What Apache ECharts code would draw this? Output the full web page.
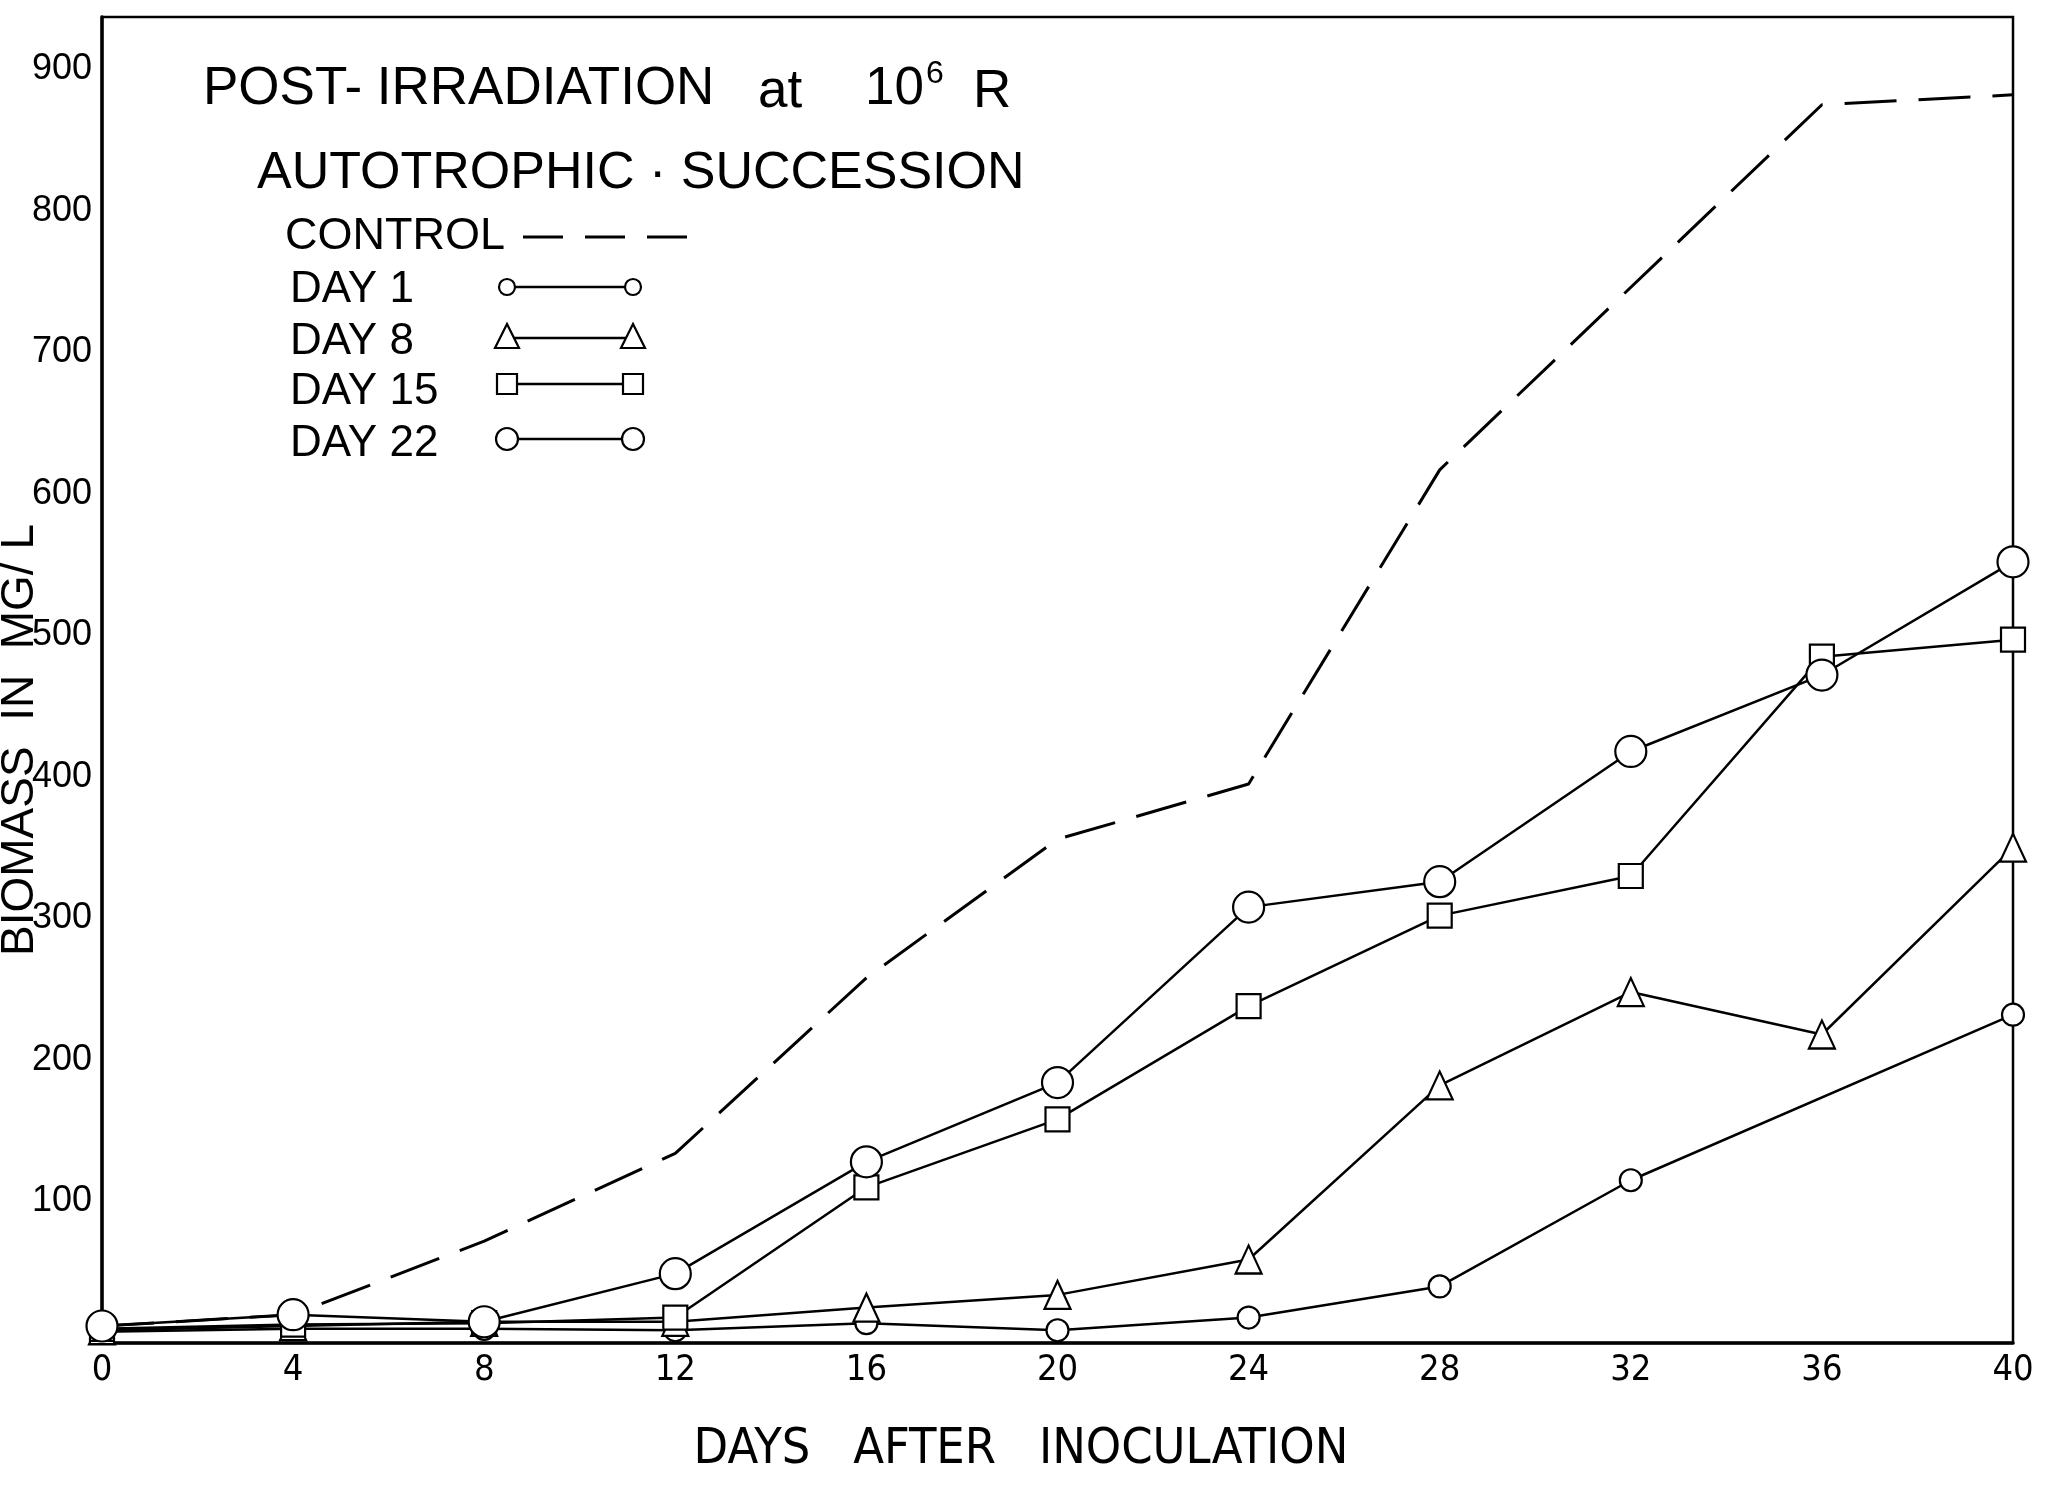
<!DOCTYPE html>
<html>
<head>
<meta charset="utf-8">
<script src="https://cdn.jsdelivr.net/npm/echarts@6/dist/echarts.min.js"></script>
<style>
html,body{margin:0;padding:0;background:#fff;}
#chart{width:2049px;height:1487px;}
</style>
</head>
<body>
<div id="chart"></div>
<script>
// ---- data ----
const days = [0, 4, 8, 12, 16, 20, 24, 28, 32, 36, 40];
const controlVals = [12, 20, 72, 134, 258, 356, 395, 617, null, 875, 882];
const day1Vals    = [8, 10, 10, 9, 14, 9, 18, 40, 115, null, 232];
const day8Vals    = [9, 12, 15, 15, 25, 34, 59, 182, 248, 218, 350];
const day15Vals   = [10, 13, 14, 18, 110, 158, 238, 302, 330, 485, 497];
const day22Vals   = [12, 20, 15, 49, 128, 184, 308, 326, 418, 472, 552];
const xTickLabels = [0, 4, 8, 12, 16, 20, 24, 28, 32, 36, 40];
const yTickLabels = [100, 200, 300, 400, 500, 600, 700, 800, 900];
const legendNames = ['CONTROL', 'DAY 1', 'DAY 8', 'DAY 15', 'DAY 22'];
const titleLine1a = 'POST- IRRADIATION';
const titleLine1b = 'at';
const titleLine1c = '10';
const titleSup = '6';
const titleLine1d = 'R';
const titleLine2 = 'AUTOTROPHIC · SUCCESSION';
const xAxisTitle = 'DAYS   AFTER   INOCULATION';
const yAxisTitle = 'BIOMASS  IN  MG/ L';

const pairs = vals => days.map((d, i) => [d, vals[i]]);
const FONT = '"Liberation Sans", Arial, sans-serif';
const NARROW = '"Liberation Sans Narrow", "DejaVu Sans Condensed", "Liberation Sans", sans-serif';

const mk = {color: '#fff', borderColor: '#000', borderWidth: 2.2};
const lineSt = {color: '#000', width: 2.5};

function legendRow(y, symbol, size) {
  const els = [{type: 'line', shape: {x1: 507, y1: y, x2: 633, y2: y}, style: {stroke: '#000', lineWidth: 2.5}}];
  [507, 633].forEach(cx => {
    if (symbol === 'circle') {
      els.push({type: 'circle', shape: {cx: cx, cy: y, r: size / 2}, style: {fill: '#fff', stroke: '#000', lineWidth: 2.2}});
    } else if (symbol === 'triangle') {
      els.push({type: 'polygon', shape: {points: [[cx, y - size / 2 - 2], [cx - size / 2, y + size / 2 - 2], [cx + size / 2, y + size / 2 - 2]]}, style: {fill: '#fff', stroke: '#000', lineWidth: 2.2}});
    } else {
      els.push({type: 'rect', shape: {x: cx - size / 2, y: y - size / 2, width: size, height: size}, style: {fill: '#fff', stroke: '#000', lineWidth: 2.2}});
    }
  });
  return els;
}

const tStyle = (text, size) => ({text: text, fontSize: size, fontFamily: FONT, fill: '#000', verticalAlign: 'middle'});

const chart = echarts.init(document.getElementById('chart'));
const option = {
  backgroundColor: '#fff',
  animation: false,
  grid: {left: 102, right: 36, top: 17, bottom: 144, show: true, borderColor: '#000', borderWidth: 2.5},
  xAxis: {
    type: 'value', min: 0, max: 40, interval: 4,
    axisLine: {show: true, onZero: false, lineStyle: {color: '#000', width: 3.5}},
    axisTick: {show: false},
    splitLine: {show: false},
    axisLabel: {
      margin: 10, color: '#000', fontSize: 36, fontFamily: NARROW,
      formatter: v => (xTickLabels.indexOf(v) >= 0 ? String(v) : '')
    }
  },
  yAxis: {
    type: 'value', min: 0, max: 937, interval: 100,
    axisLine: {show: true, lineStyle: {color: '#000', width: 3.5}},
    axisTick: {show: false},
    splitLine: {show: false},
    axisLabel: {
      margin: 10, color: '#000', fontSize: 36, fontFamily: FONT,
      formatter: v => (yTickLabels.indexOf(v) >= 0 ? String(v) : '')
    }
  },
  series: [
    {name: legendNames[0], type: 'line', data: pairs(controlVals), connectNulls: true, showSymbol: false, symbol: 'none',
     lineStyle: {color: '#000', width: 3, type: [52, 22]}, z: 2},
    {name: legendNames[1], type: 'line', data: pairs(day1Vals), connectNulls: true, symbol: 'circle', symbolSize: 22,
     lineStyle: lineSt, itemStyle: mk, z: 3},
    {name: legendNames[2], type: 'line', data: pairs(day8Vals), symbol: 'triangle', symbolSize: [26, 28],
     lineStyle: lineSt, itemStyle: mk, z: 3},
    {name: legendNames[3], type: 'line', data: pairs(day15Vals), symbol: 'rect', symbolSize: 24,
     lineStyle: lineSt, itemStyle: mk, z: 3},
    {name: legendNames[4], type: 'line', data: pairs(day22Vals), symbol: 'circle', symbolSize: 31,
     lineStyle: lineSt, itemStyle: mk, z: 4}
  ],
  graphic: [
    {type: 'text', x: 203, y: 89, z: 10, style: tStyle(titleLine1a, 53)},
    {type: 'text', x: 758, y: 92, z: 10, style: tStyle(titleLine1b, 53)},
    {type: 'text', x: 865, y: 89, z: 10, style: tStyle(titleLine1c, 53)},
    {type: 'text', x: 926, y: 74, z: 10, style: tStyle(titleSup, 32)},
    {type: 'text', x: 973, y: 92, z: 10, style: tStyle(titleLine1d, 53)},
    {type: 'text', x: 257, y: 174, z: 10, style: tStyle(titleLine2, 52)},
    {type: 'text', x: 285, y: 237, z: 10, style: tStyle(legendNames[0], 45)},
    {type: 'line', z: 10, shape: {x1: 523, y1: 237, x2: 689, y2: 237}, style: {stroke: '#000', lineWidth: 3, lineDash: [40, 22]}},
    {type: 'text', x: 290, y: 290, z: 10, style: tStyle(legendNames[1], 44)},
    {type: 'text', x: 290, y: 342, z: 10, style: tStyle(legendNames[2], 44)},
    {type: 'text', x: 290, y: 392, z: 10, style: tStyle(legendNames[3], 44)},
    {type: 'text', x: 290, y: 444, z: 10, style: tStyle(legendNames[4], 44)},
    {type: 'group', z: 10, children: [].concat(
      legendRow(287, 'circle', 16),
      legendRow(338, 'triangle', 24),
      legendRow(384, 'rect', 20),
      legendRow(439, 'circle', 22)
    )},
    {type: 'text', x: 1021, y: 1450, z: 10, style: {text: xAxisTitle, fontSize: 50, fontFamily: NARROW, fill: '#000', align: 'center', verticalAlign: 'middle'}},
    {type: 'text', x: 20, y: 740, rotation: Math.PI / 2, z: 10, style: {text: yAxisTitle, fontSize: 46, fontFamily: FONT, fill: '#000', align: 'center', verticalAlign: 'middle'}}
  ]
};
chart.setOption(option);
</script>
</body>
</html>
